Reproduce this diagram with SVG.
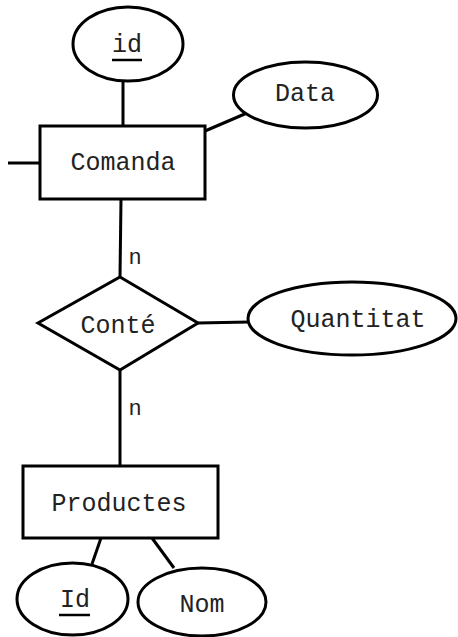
<svg xmlns="http://www.w3.org/2000/svg" width="458" height="637" viewBox="0 0 458 637">
<style>
.s{fill:#fff;stroke:#000;stroke-width:3}
.l{stroke:#000;stroke-width:3;fill:none}
text{font-family:"Liberation Mono","DejaVu Sans Mono",monospace;font-size:25px;fill:#222;text-anchor:middle}
.u{stroke:#000;stroke-width:2.5}
</style>
<rect width="458" height="637" fill="#fff"/>
<g id="connectors">
<line class="l" x1="123" y1="81" x2="123" y2="126"/>
<line class="l" x1="205" y1="131" x2="247" y2="113"/>
<line class="l" x1="8" y1="163" x2="40" y2="163"/>
<line class="l" x1="121" y1="199" x2="120" y2="277"/>
<line class="l" x1="198" y1="323" x2="249" y2="322"/>
<line class="l" x1="120" y1="370" x2="120" y2="466"/>
<line class="l" x1="101" y1="538" x2="92" y2="564"/>
<line class="l" x1="152" y1="538" x2="174" y2="568"/>
<text x="135" y="264" style="font-size:22px">n</text>
<text x="135" y="415" style="font-size:22px">n</text>
</g>
<g id="attr-id">
<ellipse class="s" cx="128" cy="44" rx="55" ry="37"/>
<text x="127" y="52">id</text>
<line class="u" x1="112" y1="60" x2="142" y2="60"/>
</g>
<g id="attr-data">
<ellipse class="s" cx="305.5" cy="95" rx="72" ry="33"/>
<text x="305" y="101">Data</text>
</g>
<g id="comanda">
<rect class="s" x="40" y="126" width="165" height="73"/>
<text x="123" y="170">Comanda</text>
</g>
<g id="conte">
<polygon class="s" points="120,277 198,323 120,370 38,323"/>
<text x="118" y="333">Conté</text>
</g>
<g id="attr-quantitat">
<ellipse class="s" cx="352" cy="318.5" rx="104" ry="36.5"/>
<text x="358" y="327">Quantitat</text>
</g>
<g id="productes">
<rect class="s" x="23" y="466" width="195" height="72"/>
<text x="119" y="511">Productes</text>
</g>
<g id="attr-Id">
<ellipse class="s" cx="72.5" cy="599" rx="55.5" ry="36"/>
<text x="75" y="607">Id</text>
<line class="u" x1="59" y1="615" x2="90" y2="615"/>
</g>
<g id="attr-nom">
<ellipse class="s" cx="202" cy="602" rx="64" ry="34"/>
<text x="202" y="612">Nom</text>
</g>
</svg>
